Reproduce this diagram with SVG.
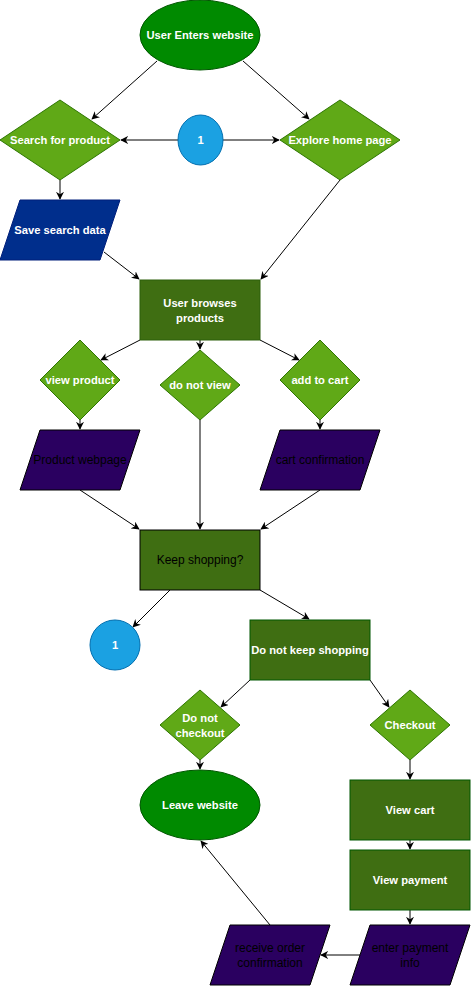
<svg xmlns="http://www.w3.org/2000/svg" width="471" height="986" viewBox="0 0 471 986">
<style>
text{font-family:"Liberation Sans",Arial,sans-serif;font-size:12px;text-anchor:middle}
.w{fill:#ffffff;font-weight:bold;font-size:11.2px}
.k{fill:#000000}
.ell{fill:#008a00;stroke:#005700}
.dia{fill:#60a917;stroke:#2d7600}
.rect{fill:#3f6e12;stroke:#2d5e0a}
.rectk{fill:#3f6e12;stroke:#000000}
.circ{fill:#1ba1e2;stroke:#006eaf}
.blue{fill:#002e8c;stroke:#001f7a}
.pur{fill:#2a0060;stroke:#000000}
.c{fill:none;stroke:#000000;stroke-width:1;marker-end:url(#arr)}
</style>
<defs>
<marker id="arr" viewBox="0 0 10 10" refX="9" refY="5" markerWidth="8" markerHeight="8" markerUnits="userSpaceOnUse" orient="auto">
<path d="M0,0 L10,5 L0,10 L3,5 z" fill="#000000"/>
</marker>
</defs>
<rect width="471" height="986" fill="#ffffff"/>
<g id="connectors">
<path class="c" d="M157,61 L92,119"/>
<path class="c" d="M243,61 L309,119"/>
<path class="c" d="M178,140 L121,140"/>
<path class="c" d="M223,140 L279,140"/>
<path class="c" d="M60,180 L60,199"/>
<path class="c" d="M104,252 L139,279"/>
<path class="c" d="M340,180 L261,279"/>
<path class="c" d="M140,340 L101,360"/>
<path class="c" d="M200,340 L200,349"/>
<path class="c" d="M260,340 L299,360"/>
<path class="c" d="M80,420 L80,429"/>
<path class="c" d="M320,420 L320,429"/>
<path class="c" d="M80,490 L139,529"/>
<path class="c" d="M200,420 L200,529"/>
<path class="c" d="M320,490 L261,529"/>
<path class="c" d="M170,590 L133,627"/>
<path class="c" d="M260,590 L309,619"/>
<path class="c" d="M250,680 L221,707"/>
<path class="c" d="M370,680 L389,707"/>
<path class="c" d="M200,760 L200,769"/>
<path class="c" d="M410,760 L410,779"/>
<path class="c" d="M410,840 L410,849"/>
<path class="c" d="M410,910 L410,924"/>
<path class="c" d="M360,955 L321,955"/>
<path class="c" d="M270,925 L201,841"/>
</g>
<g id="start">
<ellipse class="ell" cx="200" cy="35" rx="60" ry="35"/>
<text class="w" x="200" y="39">User Enters website</text>
</g>
<g id="search">
<polygon class="dia" points="60,100 120,140 60,180 0,140"/>
<text class="w" x="60" y="144">Search for product</text>
</g>
<g id="conn1top">
<ellipse class="circ" cx="200.5" cy="140" rx="22.5" ry="25"/>
<text class="w" x="200.5" y="144">1</text>
</g>
<g id="explore">
<polygon class="dia" points="340,100 400,140 340,180 280,140"/>
<text class="w" x="340" y="144">Explore home page</text>
</g>
<g id="save">
<polygon class="blue" points="20,200 120,200 100,260 0,260"/>
<text class="w" x="60" y="234">Save search data</text>
</g>
<g id="browse">
<rect class="rect" x="140" y="280" width="120" height="60"/>
<text class="w" x="200" y="307">User browses</text>
<text class="w" x="200" y="322">products</text>
</g>
<g id="viewproduct">
<polygon class="dia" points="80,340 120,380 80,420 40,380"/>
<text class="w" x="80" y="384">view product</text>
</g>
<g id="donotview">
<polygon class="dia" points="200,350 240,385 200,420 160,385"/>
<text class="w" x="200" y="389">do not view</text>
</g>
<g id="addtocart">
<polygon class="dia" points="320,340 360,380 320,420 280,380"/>
<text class="w" x="320" y="384">add to cart</text>
</g>
<g id="productwebpage">
<polygon class="pur" points="40,430 140,430 120,490 20,490"/>
<text class="k" x="80" y="464">Product webpage</text>
</g>
<g id="cartconfirmation">
<polygon class="pur" points="280,430 380,430 360,490 260,490"/>
<text class="k" x="320" y="464">cart confirmation</text>
</g>
<g id="keepshopping">
<rect class="rectk" x="140" y="530" width="120" height="60"/>
<text class="k" x="200" y="564">Keep shopping?</text>
</g>
<g id="conn1bottom">
<ellipse class="circ" cx="115" cy="645" rx="25" ry="25"/>
<text class="w" x="115" y="649">1</text>
</g>
<g id="donotkeep">
<rect class="rect" x="250" y="620" width="120" height="60" style="stroke:#005700"/>
<text class="w" x="310" y="654">Do not keep shopping</text>
</g>
<g id="donotcheckout">
<polygon class="dia" points="200,690 240,725 200,760 160,725"/>
<text class="w" x="200" y="722">Do not</text>
<text class="w" x="200" y="737">checkout</text>
</g>
<g id="checkout">
<polygon class="dia" points="410,690 450,725 410,760 370,725"/>
<text class="w" x="410" y="729">Checkout</text>
</g>
<g id="leave">
<ellipse class="ell" cx="200" cy="805" rx="60" ry="35"/>
<text class="w" x="200" y="809">Leave website</text>
</g>
<g id="viewcart">
<rect class="rect" x="350" y="780" width="120" height="60" style="stroke:#005700"/>
<text class="w" x="410" y="814">View cart</text>
</g>
<g id="viewpayment">
<rect class="rect" x="350" y="850" width="120" height="60" style="stroke:#005700"/>
<text class="w" x="410" y="884">View payment</text>
</g>
<g id="enterpayment">
<polygon class="pur" points="370,925 470,925 450,985 350,985"/>
<text class="k" x="410" y="952">enter payment</text>
<text class="k" x="410" y="967">info</text>
</g>
<g id="receiveorder">
<polygon class="pur" points="230,925 330,925 310,985 210,985"/>
<text class="k" x="270" y="952">receive order</text>
<text class="k" x="270" y="967">confirmation</text>
</g>
</svg>
